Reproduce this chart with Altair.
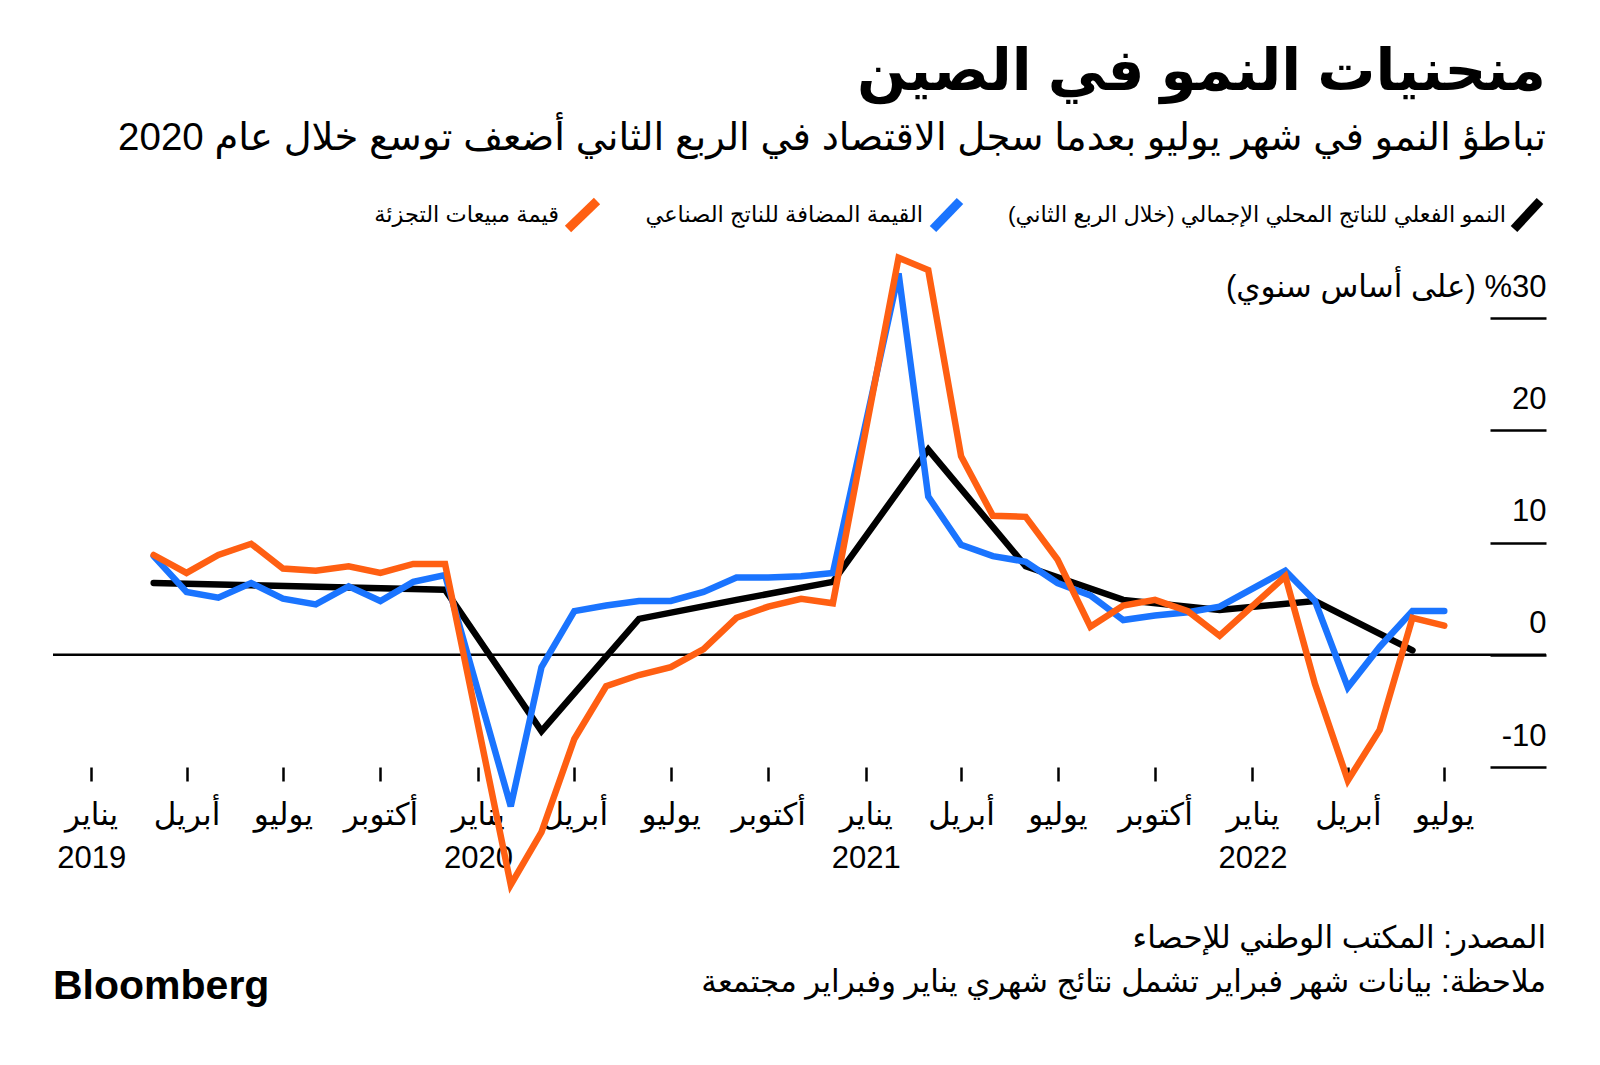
import altair as alt
import pandas as pd

# ---------------- data ----------------
monthly_dates = [
    "2019-03", "2019-04", "2019-05", "2019-06", "2019-07", "2019-08", "2019-09", "2019-10", "2019-11", "2019-12",
    "2020-02", "2020-03", "2020-04", "2020-05", "2020-06", "2020-07", "2020-08", "2020-09", "2020-10", "2020-11", "2020-12",
    "2021-02", "2021-03", "2021-04", "2021-05", "2021-06", "2021-07", "2021-08", "2021-09", "2021-10", "2021-11", "2021-12",
    "2022-02", "2022-03", "2022-04", "2022-05", "2022-06", "2022-07",
]
industrial = [
    8.8, 5.6, 5.1, 6.4, 5.0, 4.5, 6.1, 4.8, 6.5, 7.1,
    -13.5, -1.1, 3.9, 4.4, 4.8, 4.8, 5.6, 6.9, 6.9, 7.0, 7.3,
    34.0, 14.1, 9.8, 8.8, 8.3, 6.4, 5.3, 3.1, 3.5, 3.8, 4.3,
    7.5, 4.8, -2.9, 0.7, 3.9, 3.9,
]
retail = [
    8.9, 7.3, 8.9, 9.9, 7.7, 7.5, 7.9, 7.3, 8.1, 8.1,
    -20.5, -15.8, -7.5, -2.8, -1.8, -1.1, 0.5, 3.3, 4.3, 5.0, 4.6,
    35.4, 34.3, 17.7, 12.4, 12.3, 8.5, 2.5, 4.4, 4.9, 3.9, 1.7,
    7.0, -2.6, -11.2, -6.7, 3.3, 2.6,
]
gdp_dates = [
    "2019-03", "2019-06", "2019-09", "2019-12",
    "2020-03", "2020-06", "2020-09", "2020-12",
    "2021-03", "2021-06", "2021-09", "2021-12",
    "2022-03", "2022-06",
]
gdp = [6.4, 6.2, 6.0, 5.8, -6.8, 3.2, 4.9, 6.5, 18.3, 7.9, 4.9, 4.0, 4.8, 0.4]

series_names = [
    "النمو الفعلي للناتج المحلي الإجمالي (خلال الربع الثاني)",
    "القيمة المضافة للناتج الصناعي",
    "قيمة مبيعات التجزئة",
]
series_colors = ["#000000", "#1a74ff", "#ff5f12"]

y_ticks = [-10, 0, 10, 20, 30]
y_unit = "(على أساس سنوي)"
month_names = {0: "يناير", 3: "أبريل", 6: "يوليو", 9: "أكتوبر"}

title_text = "منحنيات النمو في الصين"
subtitle_text = "تباطؤ النمو في شهر يوليو بعدما سجل الاقتصاد في الربع الثاني أضعف توسع خلال عام 2020"
source_text = "المصدر: المكتب الوطني للإحصاء"
note_text = "ملاحظة: بيانات شهر فبراير تشمل نتائج شهري يناير وفبراير مجتمعة"
brand_text = "Bloomberg"

RLM = "\u200f"
FONT = "Liberation Sans, DejaVu Sans"

# ---------------- frames ----------------
def iso(m):
    return m + "-01T00:00:00Z"

df_ind = pd.DataFrame({"date": [iso(d) for d in monthly_dates], "value": industrial})
df_ret = pd.DataFrame({"date": [iso(d) for d in monthly_dates], "value": retail})
df_gdp = pd.DataFrame({"date": [iso(d) for d in gdp_dates], "value": gdp})

W, H = 1493, 516
xscale = alt.Scale(
    type="utc",
    domain=[alt.DateTime(year=2018, month=11, date=26, utc=True),
            alt.DateTime(year=2022, month=10, date=5, utc=True)],
)
yscale = alt.Scale(domain=[-10, 36], nice=False, zero=False)

tick_dates = []
for yr in range(2019, 2023):
    for mo in (1, 4, 7, 10):
        if yr == 2022 and mo > 7:
            continue
        tick_dates.append(alt.DateTime(year=yr, month=mo, date=1, utc=True))

label_expr = (
    f"utcmonth(datum.value)==0 ? ['{month_names[0]}', ''+utcyear(datum.value)] : "
    f"utcmonth(datum.value)==3 ? '{month_names[3]}' : "
    f"utcmonth(datum.value)==6 ? '{month_names[6]}' : '{month_names[9]}'"
)
y_label_expr = f"datum.value == 30 ? '{RLM}%30 {y_unit}{RLM}' : ''+datum.value"

x_axis = alt.Axis(
    values=tick_dates, labelExpr=label_expr, title=None, domain=False, grid=False,
    tickSize=14, tickWidth=2.5, tickColor="black", labelFont=FONT, labelFontSize=31,
    labelColor="black", labelPadding=19, labelLineHeight=43, labelBaseline="top",
    labelAlign="center", labelOverlap=False, labelFlush=False, labelLimit=0,
)
y_axis = alt.Axis(
    orient="right", values=y_ticks, labelExpr=y_label_expr, title=None, domain=False,
    grid=False, offset=-56, tickSize=56, tickWidth=2.5, tickColor="black",
    labelFont=FONT, labelFontSize=31, labelColor="black", labelAlign="right",
    labelBaseline="alphabetic", labelPadding=0, labelOffset=-22, labelOverlap=False,
    labelLimit=0,
)

def line_layer(df, color):
    return alt.Chart(df).mark_line(
        color=color, strokeWidth=6.5, strokeCap="round", strokeJoin="miter", clip=False
    ).encode(
        x=alt.X("date:T", scale=xscale, axis=x_axis),
        y=alt.Y("value:Q", scale=yscale, axis=y_axis),
    )

zero = alt.Chart(pd.DataFrame({"v": [0]})).mark_rule(color="black", strokeWidth=2.5).encode(
    y=alt.Y("v:Q", scale=yscale, axis=y_axis)
)

def txt(s, x, y, size, weight="normal", align="right", baseline="alphabetic", font=FONT):
    return alt.Chart(pd.DataFrame({"t": [s]})).mark_text(
        align=align, baseline=baseline, font=font, fontSize=size, fontWeight=weight, color="black"
    ).encode(text="t:N", x=alt.value(x), y=alt.value(y))

def slash(x1, x2, color):
    return alt.Chart(pd.DataFrame({"a": [0]})).mark_rule(
        color=color, strokeWidth=9, strokeCap="butt"
    ).encode(x=alt.value(x1), x2=alt.value(x2), y=alt.value(-22), y2=alt.value(-50))

legend_layers = []
legend_pos = [(1453, 1461, 1487), (870, 880, 907), (506, 515, 544)]
for name, col, (tx, sx1, sx2) in zip(series_names, series_colors, legend_pos):
    legend_layers.append(slash(sx1, sx2, col))
    legend_layers.append(txt(RLM + name + RLM, tx, -36, 22.5, baseline="middle"))

chart = alt.layer(
    line_layer(df_gdp, series_colors[0]),
    zero,
    line_layer(df_ind, series_colors[1]),
    line_layer(df_ret, series_colors[2]),
    txt(title_text, W, -161, 58, weight="bold"),
    txt(subtitle_text, W, -101, 38.5),
    *legend_layers,
    txt(source_text, W, 688, 31, baseline="middle"),
    txt(note_text, W, 732, 31, baseline="middle"),
    txt(brand_text, 0, 736, 41, weight="bold", align="left", baseline="middle"),
).properties(
    width=W, height=H,
    padding={"left": 45, "top": 243, "right": 40, "bottom": 280},
    autosize=alt.AutoSizeParams(type="none"),
).configure_view(stroke=None)

chart.save("out.html", embed_options={"renderer": "svg", "actions": False})
